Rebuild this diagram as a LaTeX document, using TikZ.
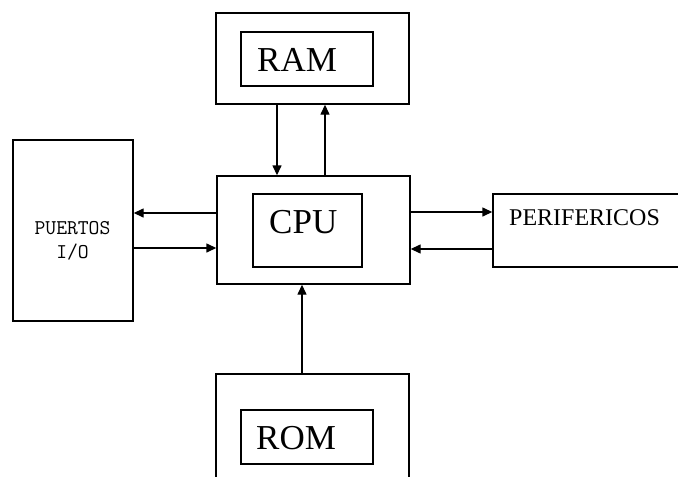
\documentclass[tikz,border=0pt]{standalone}
\usepackage{fontspec}
\setmainfont{Liberation Serif}
\usetikzlibrary{arrows.meta}
\begin{document}
\begin{tikzpicture}[x=1pt,y=-1pt,
  box/.style={draw,line width=1.4pt,rectangle,inner sep=0pt,anchor=center},
  lbl/.style={inner sep=0pt,anchor=base west,font=\fontsize{35}{40}\selectfont},
  arr/.style={line width=1.4pt,-{Triangle[length=10pt,width=9pt]}}]
\useasboundingbox (0,0) rectangle (678,477);
\clip (0,0) rectangle (678,477);
% RAM
\node[box,minimum width=193pt,minimum height=91pt] (ramout) at (312.5,58.5) {};
\node[box,minimum width=132pt,minimum height=54pt] (ramin) at (307,59) {};
\node[lbl] (ramtxt) at (257,71) {RAM};
% CPU
\node[box,minimum width=193pt,minimum height=108pt] (cpuout) at (313.5,230) {};
\node[box,minimum width=109pt,minimum height=73pt] (cpuin) at (307.5,230.5) {};
\node[lbl] (cputxt) at (269,233) {CPU};
% ROM
\node[box,minimum width=193pt,minimum height=126pt] (romout) at (312.5,437) {};
\node[box,minimum width=132pt,minimum height=54pt] (romin) at (307,437) {};
\node[lbl] (romtxt) at (256,449) {ROM};
% PUERTOS
\node[box,minimum width=120pt,minimum height=181pt] (io) at (73,230.5) {};
\node[inner sep=0pt,align=center,font=\ttfamily\fontsize{21}{24}\selectfont] (iotxt) at (72.5,241) {PUERTOS\\I/O};
% PERIFERICOS
\node[box,minimum width=197pt,minimum height=73pt] (per) at (591.5,230.5) {};
\node[inner sep=0pt,anchor=base west,font=\fontsize{24}{28}\selectfont] (pertxt) at (509,225) {PERIFERICOS};
% connectors
\draw[arr] (ramout.south -| 277,0) -- (cpuout.north -| 277,0);
\draw[arr] (cpuout.north -| 325,0) -- (ramout.south -| 325,0);
\draw[arr] (cpuout.west |- 0,213) -- (io.east |- 0,213);
\draw[arr] (io.east |- 0,248) -- (cpuout.west |- 0,248);
\draw[arr] (cpuout.east |- 0,212) -- (per.west |- 0,212);
\draw[arr] (per.west |- 0,249) -- (cpuout.east |- 0,249);
\draw[arr] (romout.north -| 302,0) -- (cpuout.south -| 302,0);
\end{tikzpicture}
\end{document}
